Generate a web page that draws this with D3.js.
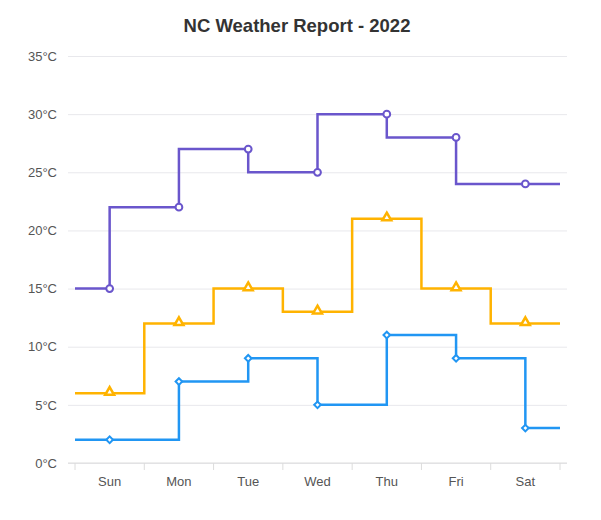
<!DOCTYPE html>
<html>
<head>
<meta charset="utf-8">
<script src="https://cdn.jsdelivr.net/npm/d3@7"></script>
<style>
  body { margin: 0; background: #fff; }
  text { font-family: "Liberation Sans", Arial, sans-serif; }
</style>
</head>
<body>
<div id="chart"></div>
<script>
const days = ['Sun', 'Mon', 'Tue', 'Wed', 'Thu', 'Fri', 'Sat'];
const yTicks = [0, 5, 10, 15, 20, 25, 30, 35];
const highTemps = [15, 22, 27, 25, 30, 28, 24];
const midTemps = [6, 12, 15, 13, 21, 15, 12];
const lowTemps = [2, 7, 9, 5, 11, 9, 3];

const series = [
    { name: 'High', values: highTemps, color: '#6a56cc', curve: d3.curveStepBefore, marker: 'circle' },
    { name: 'Mid', values: midTemps, color: '#ffb300', curve: d3.curveStep, marker: 'triangle' },
    { name: 'Low', values: lowTemps, color: '#2196f3', curve: d3.curveStepAfter, marker: 'diamond' },
];

const W = 601, H = 520;
const plotLeft = 75, plotRight = 560, plotTop = 56, plotBottom = 463;
const gridPad = 7;

const svg = d3.select('#chart').append('svg')
    .attr('width', W)
    .attr('height', H);

svg.append('text')
    .attr('x', 297)
    .attr('y', 32)
    .attr('text-anchor', 'middle')
    .attr('font-size', 18.5)
    .attr('font-weight', 'bold')
    .attr('fill', '#333')
    .text('NC Weather Report - 2022');

const x = d3.scaleBand().domain(days).range([plotLeft, plotRight]);
const y = d3.scaleLinear().domain([0, 35]).range([plotBottom, plotTop]);

// gridlines + y labels
const yAxis = d3.axisLeft(y)
    .tickValues(yTicks)
    .tickSize(-(plotRight - plotLeft + 2 * gridPad))
    .tickPadding(11)
    .tickFormat(d => `${d}°C`);

svg.append('g')
    .attr('transform', `translate(${plotLeft - gridPad},0)`)
    .call(yAxis)
    .call(g => g.select('.domain').remove())
    .call(g => g.selectAll('.tick line').attr('stroke', '#e8e8ec').attr('stroke-width', 1))
    .call(g => g.selectAll('.tick text').attr('fill', '#555').attr('font-size', 13));

// x axis
const xAxis = d3.axisBottom(x).tickSize(0).tickPadding(14);
const gx = svg.append('g')
    .attr('transform', `translate(0,${plotBottom})`)
    .call(xAxis)
    .call(g => g.select('.domain').remove())
    .call(g => g.selectAll('.tick text').attr('fill', '#555').attr('font-size', 13));

gx.append('line')
    .attr('x1', plotLeft - gridPad).attr('x2', plotRight + gridPad)
    .attr('stroke', '#dcdcdc');

gx.selectAll('.sep')
    .data(d3.range(days.length + 1))
    .enter().append('line')
    .attr('class', 'sep')
    .attr('x1', i => plotLeft + i * x.step())
    .attr('x2', i => plotLeft + i * x.step())
    .attr('y1', 0).attr('y2', 7)
    .attr('stroke', '#dcdcdc');

const cx = d => x(d) + x.bandwidth() / 2;

series.forEach(s => {
    const pts = days.map((d, i) => [cx(d), y(s.values[i])]);
    const first = pts[0], last = pts[pts.length - 1];

    // stepped line through the points, then flat runs out to the plot edges
    svg.append('path')
        .attr('d', d3.line().curve(s.curve)(pts))
        .attr('fill', 'none')
        .attr('stroke', s.color)
        .attr('stroke-width', 2.5);
    svg.append('path')
        .attr('d', d3.line()([[plotLeft, first[1]], first]))
        .attr('fill', 'none')
        .attr('stroke', s.color)
        .attr('stroke-width', 2.5);
    svg.append('path')
        .attr('d', d3.line()([last, [plotRight, last[1]]]))
        .attr('fill', 'none')
        .attr('stroke', s.color)
        .attr('stroke-width', 2.5);

    const symType = { circle: d3.symbolCircle, triangle: d3.symbolTriangle, diamond: d3.symbolSquare }[s.marker];
    const size = { circle: 36, triangle: 34, diamond: 22 }[s.marker];
    svg.append('g').selectAll('path')
        .data(pts)
        .enter().append('path')
        .attr('transform', p => `translate(${p[0]},${p[1] - (s.marker === 'triangle' ? 1 : 0)})` + (s.marker === 'diamond' ? ' rotate(45)' : ''))
        .attr('d', d3.symbol().type(symType).size(size))
        .attr('fill', '#fff')
        .attr('stroke', s.color)
        .attr('stroke-width', s.marker === 'triangle' ? 2.5 : 2);
});
</script>
</body>
</html>
